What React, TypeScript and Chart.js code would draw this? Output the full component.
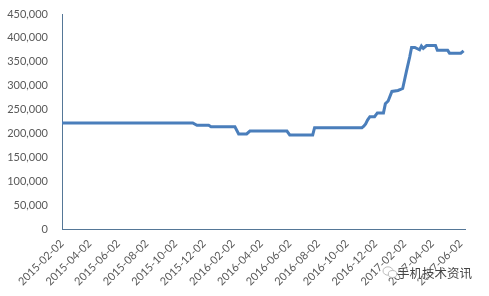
import React, { useEffect, useRef } from "react";
import { Chart, registerables } from "chart.js";

Chart.register(...registerables);

const tickLabels = [
  "2015-02-02", "2015-04-02", "2015-06-02", "2015-08-02", "2015-10-02",
  "2015-12-02", "2016-02-02", "2016-04-02", "2016-06-02", "2016-08-02",
  "2016-10-02", "2016-12-02", "2017-02-02", "2017-04-02", "2017-06-02",
];

const dates = [
  "2015-02-02", "2015-11-08", "2015-11-17", "2015-12-12", "2015-12-17",
  "2016-02-06", "2016-02-14", "2016-03-02", "2016-03-09", "2016-05-27",
  "2016-06-02", "2016-07-21", "2016-07-25", "2016-11-03", "2016-11-07",
  "2016-11-11", "2016-11-15", "2016-11-20", "2016-11-30", "2016-12-06",
  "2016-12-19", "2016-12-23", "2016-12-29", "2017-01-06", "2017-01-19",
  "2017-01-29", "2017-02-06", "2017-02-13", "2017-02-17", "2017-02-24",
  "2017-03-06", "2017-03-10", "2017-03-14", "2017-03-21", "2017-04-09",
  "2017-04-13", "2017-05-05", "2017-05-09", "2017-06-02", "2017-06-08",
];

const prices = [
  222000, 222000, 217000, 217000, 214000,
  214000, 199000, 199000, 205000, 205000,
  197000, 197000, 212000, 212000, 215000,
  220000, 228000, 235000, 235000, 243000,
  243000, 262000, 268000, 288000, 290000,
  294000, 330000, 360000, 380000, 380000,
  375000, 383000, 378000, 384000, 384000,
  374000, 374000, 368000, 368000, 373000,
];

const yMax = 450000;
const yStep = 50000;

const dayOf = (s: string) => {
  const [y, m, d] = s.split("-").map(Number);
  return (Date.UTC(y, m - 1, d) - Date.UTC(2015, 1, 2)) / 86400000;
};

export default function App() {
  const ref = useRef<HTMLCanvasElement>(null);
  useEffect(() => {
    if (!ref.current) return;
    const tickDays = tickLabels.map(dayOf);
    const font = { family: "Lato, 'Open Sans', sans-serif", size: 11 };
    const chart = new Chart(ref.current, {
      type: "line",
      data: {
        datasets: [
          {
            data: dates.map((d, i) => ({ x: dayOf(d), y: prices[i] })),
            borderColor: "#4a7ebb",
            borderWidth: 3,
            pointRadius: 0,
            tension: 0,
            fill: false,
          },
        ],
      },
      options: {
        animation: false,
        responsive: false,
        maintainAspectRatio: false,
        layout: { padding: { top: 14, right: 24, left: 0, bottom: 0 } },
        plugins: { legend: { display: false }, tooltip: { enabled: false } },
        scales: {
          x: {
            type: "linear",
            min: 0,
            max: 860,
            afterBuildTicks: (scale: any) => {
              scale.ticks = tickDays.map((v) => ({ value: v }));
            },
            afterFit: (scale: any) => {
              scale.height = 67;
            },
            ticks: {
              autoSkip: false,
              maxRotation: 45,
              minRotation: 45,
              padding: 8,
              color: "#595959",
              font,
              callback: (v: any) => {
                const i = tickDays.indexOf(Number(v));
                return i >= 0 ? tickLabels[i] : "";
              },
            },
            grid: { display: false, drawTicks: false },
            border: { display: true, color: "#557797", width: 1 },
          },
          y: {
            min: 0,
            max: yMax,
            afterFit: (scale: any) => {
              scale.width = 62;
            },
            ticks: {
              stepSize: yStep,
              padding: 1,
              color: "#595959",
              font,
              callback: (v: any) => Number(v).toLocaleString("en-US"),
            },
            grid: {
              display: true,
              drawOnChartArea: false,
              drawTicks: true,
              tickLength: 13,
              color: "rgba(0,0,0,0)",
            },
            border: { display: true, color: "#557797", width: 1 },
          },
        },
      },
    });
    return () => chart.destroy();
  }, []);
  return (
    <div style={{ position: "fixed", left: 0, top: 0, width: 489, height: 296, background: "#fff" }}>
      <canvas ref={ref} width={489} height={296} style={{ width: 489, height: 296 }} />
      <svg
        width={16}
        height={14}
        style={{ position: "absolute", left: 382, top: 265 }}
      >
        <ellipse cx={6} cy={6} rx={5} ry={4.2} fill="none" stroke="#bbb" strokeWidth={1} />
        <ellipse cx={10.5} cy={9} rx={4.2} ry={3.5} fill="#fff" stroke="#bbb" strokeWidth={1} />
      </svg>
      <span
        style={{
          position: "absolute",
          left: 397,
          top: 263,
          fontFamily: "'Noto Sans CJK SC', sans-serif",
          fontSize: 12.5,
          color: "#444",
          textShadow: "0 0 2px #fff, 0 0 2px #fff, 0 0 1px #fff",
          whiteSpace: "nowrap",
        }}
      >
        手机技术资讯
      </span>
    </div>
  );
}
